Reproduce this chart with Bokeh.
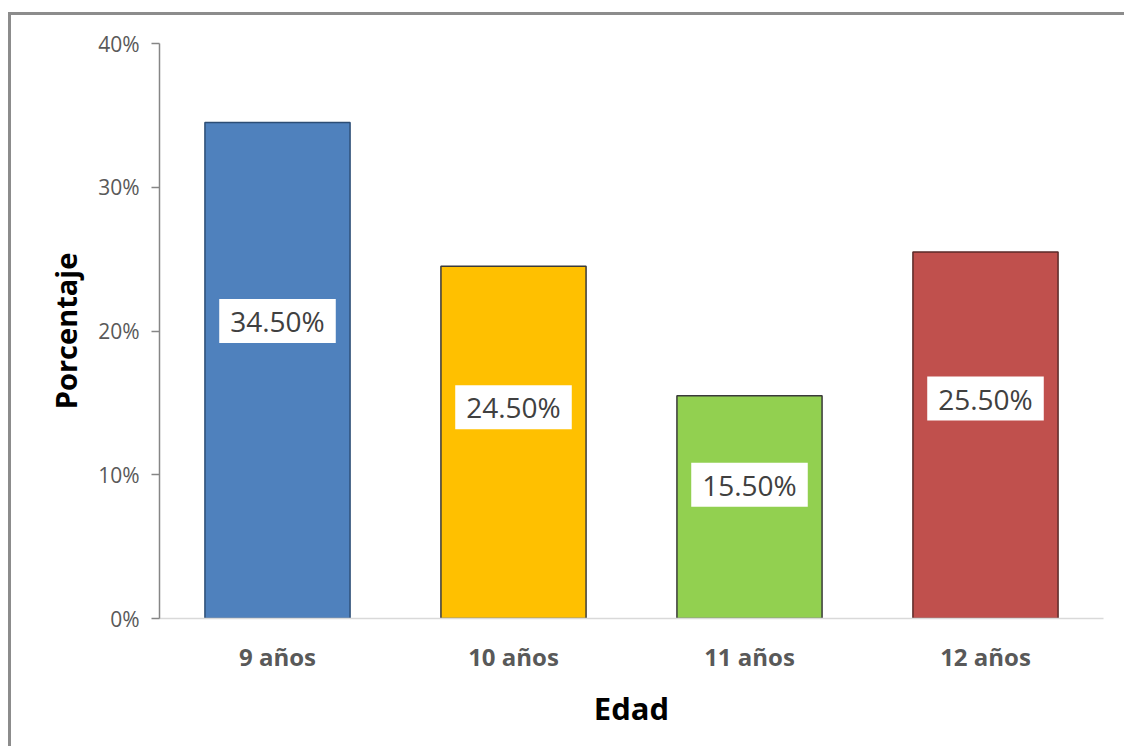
from bokeh.plotting import figure
from bokeh.models import (FixedTicker, PrintfTickFormatter,
                          ColumnDataSource, Range1d)
from bokeh.core.properties import value
from bokeh.embed import file_html
from bokeh.resources import INLINE

categories = ["9 años", "10 años", "11 años", "12 años"]
values = [34.5, 24.5, 15.5, 25.5]
fill_colors = ["#4f81bd", "#ffc000", "#92d050", "#c0504d"]
edge_colors = ["#2c4d75", "#3a3a3a", "#3a3a3a", "#5a2a28"]
y_ticks = [0, 10, 20, 30, 40]

FONT = "Open Sans"

p = figure(width=1116, height=734, x_range=categories, y_range=Range1d(0, 40),
           output_backend="svg", toolbar_location=None,
           min_border_left=148, min_border_right=24, min_border_top=28, min_border_bottom=131)
p.styles = {"margin-left": "8px", "margin-top": "12px",
            "border-left": "3px solid #8c8c8c", "border-top": "3px solid #8c8c8c",
            "border-right": "0px none", "border-bottom": "0px none"}
p.outline_line_color = None
p.background_fill_color = "white"
p.border_fill_color = "white"
p.xgrid.grid_line_color = None
p.ygrid.grid_line_color = None

src = ColumnDataSource(dict(cat=categories, val=values, fill=fill_colors, edge=edge_colors,
                            lab_y=[v * 0.6 for v in values],
                            lab=[f"{v:.2f}%" for v in values]))
p.vbar(x="cat", top="val", width=0.615, source=src, fill_color="fill",
       line_color="edge", line_width=1.5)

p.text(x="cat", y="lab_y", text="lab", source=src, text_align="center",
       text_baseline="middle", text_font=value(FONT), text_font_size="28px",
       text_color="#404040", background_fill_color="white",
       padding=dict(left=11, right=11, top=3, bottom=3))

# y axis
ya = p.yaxis[0]
ya.ticker = FixedTicker(ticks=y_ticks)
ya.formatter = PrintfTickFormatter(format="%d%%")
ya.axis_line_color = "#868686"
ya.axis_line_width = 1.5
ya.major_tick_line_color = "#868686"
ya.major_tick_line_width = 1.5
ya.major_tick_out = 8
ya.major_tick_in = 0
ya.minor_tick_line_color = None
ya.major_label_text_font = FONT
ya.major_label_text_font_size = "21px"
ya.major_label_text_color = "#595959"
ya.major_label_standoff = 12
ya.axis_label = "Porcentaje"
ya.axis_label_text_font = FONT
ya.axis_label_text_font_size = "29px"
ya.axis_label_text_font_style = "bold"
ya.axis_label_text_color = "black"
ya.axis_label_standoff = 10

# x axis
xa = p.xaxis[0]
xa.axis_line_color = "#d9d9d9"
xa.axis_line_width = 1.5
xa.major_tick_line_color = None
xa.minor_tick_line_color = None
xa.major_label_text_font = FONT
xa.major_label_text_font_size = "24px"
xa.major_label_text_font_style = "bold"
xa.major_label_text_color = "#595959"
xa.major_label_standoff = 15
xa.axis_label = "Edad"
xa.axis_label_text_font = FONT
xa.axis_label_text_font_size = "31px"
xa.axis_label_text_font_style = "bold"
xa.axis_label_text_color = "black"
xa.axis_label_standoff = 11

open("out.html", "w").write(file_html(p, INLINE))
